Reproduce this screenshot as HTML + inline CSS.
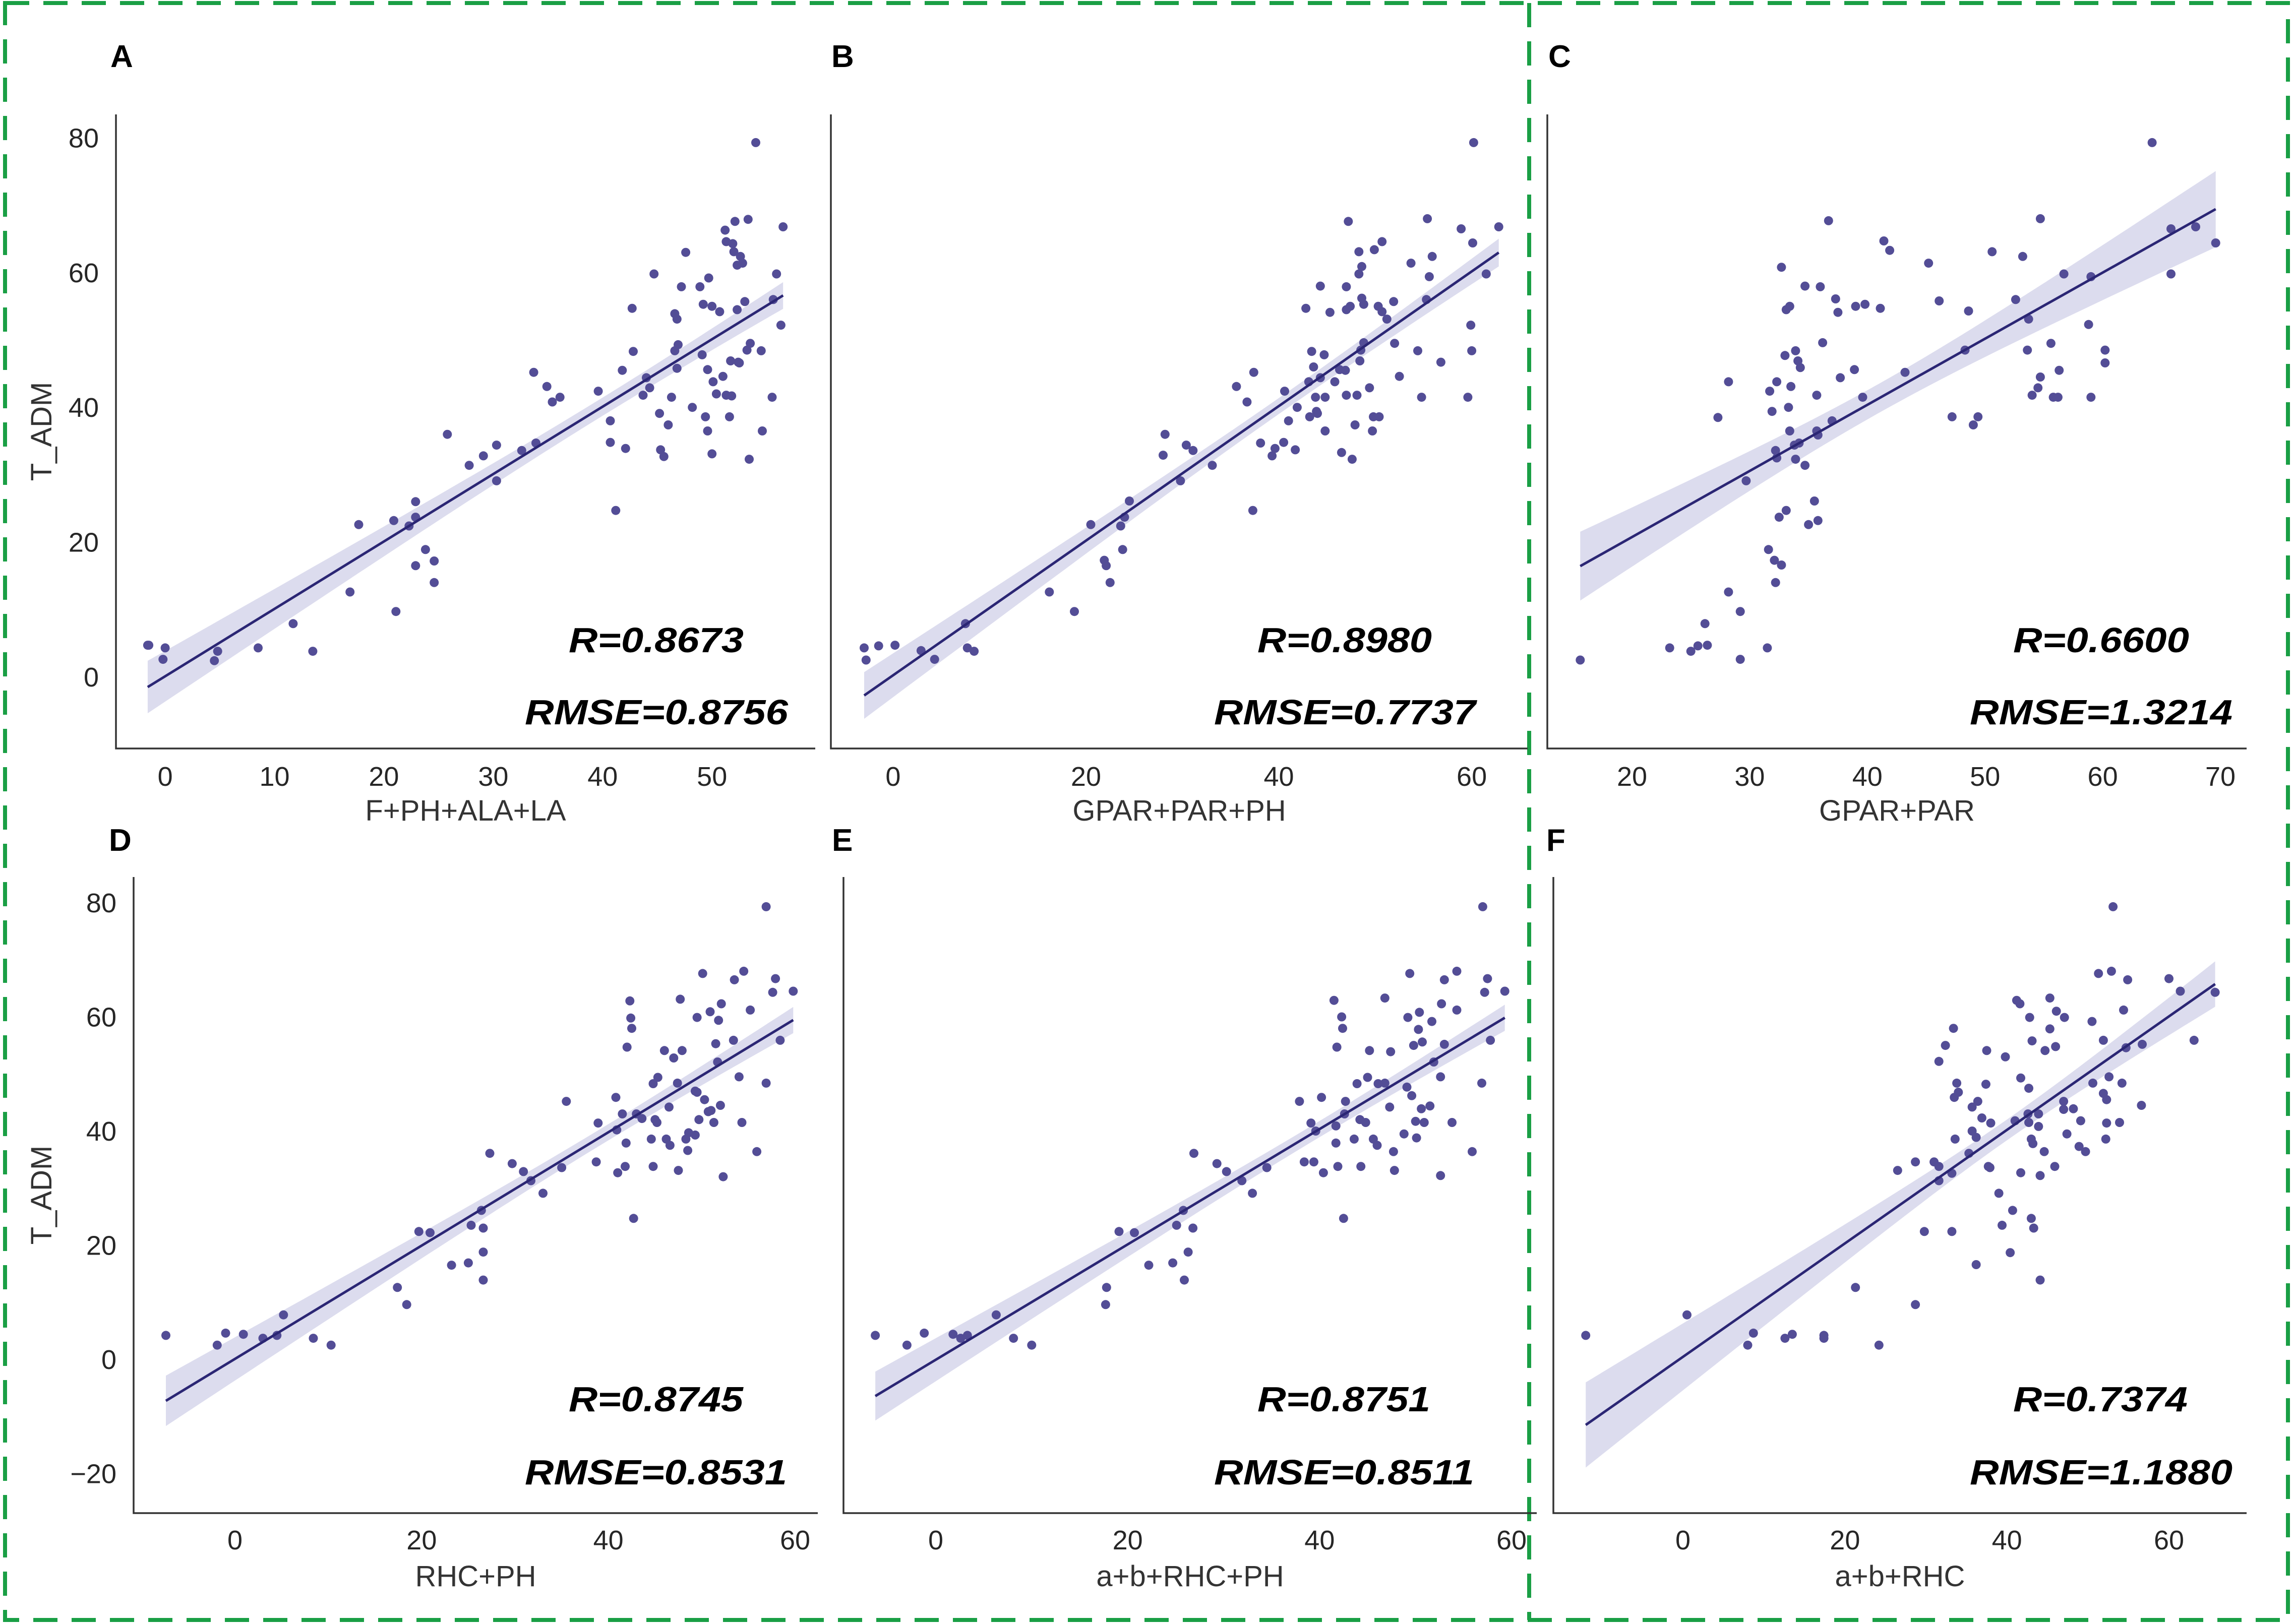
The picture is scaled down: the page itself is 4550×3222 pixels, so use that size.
<!DOCTYPE html>
<html><head><meta charset="utf-8"><title>Regression scatter panels</title>
<style>
html,body{margin:0;padding:0;background:#fff;}
svg{display:block;font-family:"Liberation Sans",Arial,sans-serif;}
</style></head>
<body>
<svg id="fig" width="4550" height="3222" viewBox="0 0 4550 3222" xmlns="http://www.w3.org/2000/svg">
<rect x="0" y="0" width="4550" height="3222" fill="#fff"/>
<g fill="none" stroke="#1a9f45" stroke-width="8" stroke-dasharray="48 28">
<rect x="10" y="6" width="4528" height="3208"/>
<line x1="3033" y1="6" x2="3033" y2="3214"/>
</g>
</svg>
<script>
const panelAPoints=[[-1.6,4.7],[-1.5,4.7],[0,4.3],[-0.2,2.6],[4.8,3.8],[4.5,2.4],[8.5,4.3],[11.7,7.9],[13.5,3.8],[16.9,12.6],[17.7,22.6],[21.1,9.7],[20.9,23.2],[22.3,22.4],[22.9,26],[22.9,23.7],[22.9,16.5],[23.8,18.9],[24.6,14],[24.6,17.2],[25.8,36],[27.8,31.4],[29.1,32.8],[30.3,34.4],[30.3,29.1],[32.6,33.6],[33.9,34.7],[33.7,45.2],[34.9,43.1],[35.4,40.8],[36.1,41.5],[39.6,42.4],[40.7,38],[40.7,34.8],[42.1,33.9],[41.2,24.7],[41.8,45.5],[42.7,54.7],[42.8,48.3],[43.7,41.8],[44,44.4],[44.3,42.9],[44.7,59.8],[45.2,39.1],[45.3,33.7],[45.6,32.7],[46,37.4],[46.3,41.5],[46.6,53.9],[46.8,53.1],[46.6,48.4],[46.8,45.8],[46.9,49.3],[47.2,57.9],[47.6,63],[48.2,40],[48.9,57.9],[49.1,47.8],[49.2,55.3],[49.4,38.6],[49.6,36.5],[49.6,45.6],[49.7,59.2],[50,55],[50,33.1],[50.1,43.8],[50.4,42],[50.7,54.2],[51,44.6],[51.2,66.3],[51.3,64.6],[51.3,41.8],[51.6,38.6],[51.7,46.9],[51.8,41.7],[51.9,64.3],[52,63.1],[52.1,67.6],[52.3,54.5],[52.3,61.1],[52.4,46.7],[52.5,46.6],[52.6,62.4],[52.8,61.4],[53,55.7],[53.2,48.5],[53.3,67.9],[53.4,32.3],[53.5,49.5],[54,79.3],[54.5,48.4],[54.6,36.5],[55.5,41.5],[55.6,56],[55.9,59.8],[56.3,52.2],[56.5,66.8]];
const panelBPoints=[[-3.0,4.3],[-2.8,2.5],[-1.5,4.6],[0.2,4.7],[2.9,3.9],[4.3,2.6],[7.5,7.9],[7.7,4.3],[8.4,3.8],[16.2,12.6],[18.8,9.7],[20.5,22.6],[21.9,17.3],[22.1,16.5],[22.5,14],[23.6,22.4],[23.8,18.9],[24,23.7],[24.5,26.1],[28,32.9],[28.2,36],[29.8,29.1],[30.4,34.4],[31.1,33.6],[33.1,31.4],[35.6,43.1],[36.7,40.8],[37.3,24.7],[37.4,45.2],[38.1,34.7],[39.3,32.8],[39.6,33.9],[40.5,34.8],[40.6,42.4],[41,38],[41.7,33.7],[41.9,40],[42.8,54.7],[43.1,43.8],[43.2,38.6],[43.4,48.3],[43.6,46],[43.8,41.5],[43.9,39.4],[44,39.1],[44.3,58],[44.3,44.4],[44.7,47.8],[44.8,36.5],[44.8,41.5],[45.3,54.1],[45.8,43.8],[46.3,45.6],[46.5,33.3],[46.9,45.5],[47,57.9],[47,54.5],[47,41.8],[47.2,67.6],[47.4,55],[47.6,32.3],[47.9,37.4],[48.1,41.8],[48.3,59.8],[48.3,63.1],[48.4,46.9],[48.5,48.5],[48.6,60.9],[48.6,56.2],[48.8,55.3],[48.8,49.6],[49.4,42.9],[49.7,36.5],[49.8,38.6],[49.9,63.4],[50.3,55],[50.4,38.6],[50.7,64.6],[50.7,54.2],[51.2,53.1],[51.9,55.7],[52,49.5],[52.5,44.6],[53.7,61.4],[54.4,48.4],[54.8,41.5],[55.3,56],[55.4,68],[55.6,59.4],[55.9,62.4],[56.8,46.7],[58.9,66.5],[59.6,41.5],[59.9,52.2],[60,48.4],[60.1,64.4],[60.2,79.3],[61.5,59.8],[62.8,66.8]];
const panelCPoints=[[15.6,2.5],[23.2,4.3],[25,3.8],[25.6,4.6],[26.4,4.7],[26.2,7.9],[28.2,12.6],[29.2,9.7],[29.2,2.6],[31.5,4.3],[29.7,29.1],[27.3,38.5],[28.2,43.8],[31.6,18.9],[32.1,17.3],[32.2,14],[32.7,16.6],[32.5,23.7],[33.1,24.7],[35,22.6],[35.5,26.1],[35.8,23.2],[31.7,42.4],[32.3,43.8],[31.9,39.4],[32.2,33.6],[32.3,32.5],[32.7,60.8],[33,47.7],[33.1,54.5],[33.4,55],[33.3,40],[33.4,36.5],[33.5,43.1],[33.8,34.4],[33.9,32.3],[33.9,48.4],[34.1,46.9],[34.3,45.9],[34.2,34.7],[34.7,31.4],[34.7,58],[35.7,41.8],[35.7,36.5],[35.8,35.9],[36,57.9],[36.2,49.6],[36.7,67.7],[37,38],[37.3,56.1],[37.5,54.1],[37.7,44.4],[38.9,45.6],[39,55],[39.6,41.5],[39.8,55.3],[41.1,54.7],[41.4,64.7],[41.9,63.3],[43.2,45.2],[45.2,61.4],[46.1,55.8],[47.2,38.6],[48.3,48.5],[48.6,54.3],[49,37.4],[49.4,38.6],[50.6,63.1],[52.6,56],[53.2,62.4],[53.7,53.1],[53.6,48.5],[54,41.8],[54.5,42.9],[54.7,68],[54.7,44.5],[55.6,49.5],[55.8,41.5],[56.2,41.5],[56.3,45.5],[56.7,59.8],[58.8,52.3],[59,41.5],[59,59.4],[60.2,48.5],[60.2,46.6],[64.2,79.3],[65.8,66.5],[65.8,59.8],[67.9,66.8],[69.6,64.4]];
const panelDPoints=[[-7.4,4.2],[-1.9,2.5],[-1,4.6],[0.9,4.4],[3,3.7],[4.5,4.2],[5.2,7.8],[8.4,3.7],[10.3,2.5],[17.4,12.6],[18.4,9.6],[19.7,22.4],[20.9,22.2],[23.2,16.5],[25,16.9],[25.3,23.5],[26.6,23],[26.4,26.1],[26.6,18.8],[26.6,13.9],[27.3,36.1],[29.7,34.3],[30.9,32.9],[31.7,31.3],[33,29.1],[35,33.6],[35.5,45.2],[38.7,34.6],[38.9,41.4],[40.8,45.9],[40.9,40.2],[41,32.7],[41.5,43],[41.8,33.8],[41.9,37.9],[42,54.7],[42.3,62.8],[42.4,59.8],[42.5,58],[42.7,24.7],[43,43],[43.6,42.2],[44.6,38.6],[44.8,48.3],[44.8,33.8],[45,42],[45.2,41.5],[45.3,49.4],[46,54.1],[46.2,38.6],[46.5,44.2],[46.6,37.5],[47,52.8],[47.4,48.4],[47.5,33.1],[47.7,63.1],[47.9,54.1],[48.3,38.6],[48.5,36.6],[48.6,39.7],[49.3,39.3],[49.3,47],[49.5,59.9],[49.5,46.8],[49.7,42],[50.1,67.6],[50.3,45.5],[50.7,43.4],[50.9,60.9],[51,43.6],[51.3,41.5],[51.5,55.3],[51.7,52.1],[51.8,59.4],[52,44.5],[52.1,62.3],[52.3,32],[53.4,55.9],[53.5,66.5],[54,49.5],[54.3,41.5],[54.5,68],[55.2,61.2],[55.9,36.4],[56.9,79.3],[56.9,48.4],[57.6,64.3],[57.9,66.7],[58.4,55.9],[59.8,64.5]];
const panelEPoints=[[-6.3,4.2],[-3,2.5],[-1.2,4.6],[1.8,4.4],[2.6,3.7],[3.3,4.2],[6.3,7.8],[8.1,3.7],[10,2.5],[17.8,12.6],[17.7,9.6],[19.1,22.4],[20.7,22.2],[22.2,16.5],[24.7,16.9],[25.1,23.5],[26.8,23],[25.8,26.1],[26.3,18.8],[25.9,13.9],[26.9,36.1],[29.3,34.3],[30.3,32.9],[31.9,31.3],[33,29.1],[34.5,33.6],[37.9,45.2],[38.4,34.6],[39.4,34.6],[39.1,41.4],[39.6,40],[40.2,45.9],[40.4,32.7],[41.5,62.9],[41.7,37.9],[41.7,40.9],[41.8,54.7],[41.9,33.8],[42.3,60],[42.4,58],[42.5,24.7],[42.6,43],[42.7,45.2],[43.6,38.6],[43.9,48.3],[44.3,33.8],[44.2,42],[44.8,41.5],[45,49.4],[45.2,54.1],[45.6,38.6],[46,37.5],[46.1,48.3],[46.8,48.4],[46.8,63.3],[47.3,44.2],[47.4,53.9],[47.7,36.4],[47.8,33.1],[48.8,39.5],[49.1,47.7],[49.2,59.9],[49.4,67.6],[49.6,46.2],[49.8,55],[50,41.7],[50.1,38.8],[50.4,60.8],[50.3,57.8],[50.6,43.9],[50.7,55.6],[50.9,41.5],[51.5,44.4],[51.7,59.2],[51.9,52.1],[52.6,49.5],[52.6,32.2],[52.7,62.3],[53,66.5],[53,55.2],[53.8,41.5],[54.3,68],[54.3,61.2],[55.9,36.4],[56.9,48.4],[57,79.3],[57.2,64.3],[57.5,66.7],[57.8,55.9],[59.3,64.5]];
const panelFPoints=[[-12,4.2],[0.5,7.8],[8,2.5],[8.7,4.6],[12.6,3.7],[13.5,4.4],[17.4,4.2],[17.4,3.7],[21.3,12.6],[24.2,2.5],[26.5,33.1],[28.7,34.6],[28.7,9.6],[29.8,22.4],[31,34.6],[31.6,33.8],[31.6,52.2],[31.6,31.3],[32.4,55],[33.2,32.6],[33.2,22.4],[33.4,58],[33.6,38.6],[33.5,45.9],[33.8,48.4],[34,46.8],[35.3,36.1],[35.7,44.2],[35.7,40],[36.2,38.9],[36.2,16.6],[36.4,45.2],[36.9,42.3],[37.4,48.2],[37.5,54.1],[37.7,33.8],[37.9,33.6],[38,41.4],[39,29.1],[39.4,23.5],[39.8,53],[40.4,18.7],[40.7,26.1],[41,41.8],[41.2,62.9],[41.6,62.3],[41.7,49.3],[41.7,32.7],[42.6,43],[42.7,47.5],[42.7,41.5],[42.8,59.9],[43,24.7],[43,38.6],[43.1,55.8],[43.3,23],[43.2,37.8],[43.9,43],[44.1,32.2],[44.1,13.9],[43.9,40.8],[44.6,36.4],[44.7,54.1],[45.3,63.3],[45.3,57.9],[45.9,33.8],[46,54.8],[46.1,61],[47,45.2],[47.1,59.9],[47,43.8],[47.4,39.5],[48.2,43.9],[48.9,37.3],[49.1,41.8],[49.7,36.4],[50.5,59.2],[50.6,48.4],[51.3,67.6],[51.9,46.6],[51.9,55.9],[52.2,38.6],[52.3,45.5],[52.3,41.4],[52.6,49.5],[52.9,68],[53.9,41.5],[54.2,48.4],[54.4,61.2],[54.7,54.6],[54.9,66.5],[56.6,44.5],[56.7,55.2],[60,66.7],[61.4,64.5],[63.1,55.9],[53.1,79.3],[65.7,64.3]];
const xTicksA=[0,10,20,30,40,50];
const xTicksB=[0,20,40,60];
const xTicksC=[20,30,40,50,60,70];
const xTicksBottom=[0,20,40,60];
const yTicksTop=[0,20,40,60,80];
const yTicksBottom=[-20,0,20,40,60,80];
const xTitles=["F+PH+ALA+LA","GPAR+PAR+PH","GPAR+PAR","RHC+PH","a+b+RHC+PH","a+b+RHC"];
const rLabels=["R=0.8673","R=0.8980","R=0.6600","R=0.8745","R=0.8751","R=0.7374"];
const rmseLabels=["RMSE=0.8756","RMSE=0.7737","RMSE=1.3214","RMSE=0.8531","RMSE=0.8511","RMSE=1.1880"];

const NS="http://www.w3.org/2000/svg";
const svg=document.getElementById('fig');
function mk(tag,attrs,parent){const e=document.createElementNS(NS,tag);for(const k in attrs)e.setAttribute(k,attrs[k]);(parent||svg).appendChild(e);return e;}
function lin(d0,d1,p0,p1){return v=>p0+(v-d0)*(p1-p0)/(d1-d0);}

const panels=[
 {id:'a',letter:'A',pts:panelAPoints,xs:lin(0,50,327.6,1412.2),ys:lin(0,80,1342.9,273.5),box:[230,1617,227,1485],xt:xTicksA,yt:yTicksTop,showY:true,lx:219,ly:133,tickB:1559,titleB:1628,r:[1128,347,1041,522,1294,1437]},
 {id:'b',letter:'B',pts:panelBPoints,xs:lin(0,60,1771.4,2919.1),ys:lin(0,80,1342.9,273.5),box:[1648,3030,227,1485],xt:xTicksB,yt:yTicksTop,showY:false,lx:1649,ly:133,tickB:1559,titleB:1628,r:[2494,346,2408,519,1294,1437]},
 {id:'c',letter:'C',pts:panelCPoints,xs:lin(20,70,3237,4404),ys:lin(0,80,1342.9,273.5),box:[3069,4456,227,1485],xt:xTicksC,yt:yTicksTop,showY:false,lx:3071,ly:133,tickB:1559,titleB:1628,r:[3993,349,3907,521,1294,1437]},
 {id:'d',letter:'D',pts:panelDPoints,xs:lin(0,60,466,1577),ys:lin(0,80,2697,1791),box:[265,1622,1740,3002],xt:xTicksBottom,yt:yTicksBottom,showY:true,lx:216,ly:1688,tickB:3074,titleB:3147,r:[1128,346,1041,520,2800,2945]},
 {id:'e',letter:'E',pts:panelEPoints,xs:lin(0,60,1856,2998),ys:lin(0,80,2697,1791),box:[1673,3048,1740,3002],xt:xTicksBottom,yt:yTicksBottom,showY:false,lx:1650,ly:1688,tickB:3074,titleB:3147,r:[2494,343,2408,516,2800,2945]},
 {id:'f',letter:'F',pts:panelFPoints,xs:lin(0,60,3338,4302),ys:lin(0,80,2697,1791),box:[3081,4456,1740,3002],xt:xTicksBottom,yt:yTicksBottom,showY:false,lx:3067,ly:1688,tickB:3074,titleB:3147,r:[3993,346,3907,521,2800,2945]}
];

panels.forEach((p,i)=>{
 const g=mk('g',{});
 
 
 const [L,R,T,B]=p.box;
 const n=p.pts.length;let mx=0,my=0;p.pts.forEach(q=>{mx+=q[0];my+=q[1];});mx/=n;my/=n;
 let sxx=0,sxy=0;p.pts.forEach(q=>{sxx+=(q[0]-mx)**2;sxy+=(q[0]-mx)*(q[1]-my);});
 const b=sxy/sxx,a=my-b*mx;let sse=0;p.pts.forEach(q=>{sse+=(q[1]-a-b*q[0])**2;});
 const s=Math.sqrt(sse/(n-2));
 const xmin=Math.min(...p.pts.map(q=>q[0])),xmax=Math.max(...p.pts.map(q=>q[0]));
 const up=[],lo=[];
 for(let k=0;k<=60;k++){const x=xmin+(xmax-xmin)*k/60;const h=1.5*s*Math.sqrt(1/n+(x-mx)**2/sxx);const yh=a+b*x;
  up.push(p.xs(x).toFixed(1)+','+p.ys(yh+h).toFixed(1));lo.unshift(p.xs(x).toFixed(1)+','+p.ys(yh-h).toFixed(1));}
 const band=mk('polygon',{points:up.concat(lo).join(' '),fill:'#dcdcee'},g);
 
 
 p.pts.forEach(q=>{
  const c=mk('circle',{cx:p.xs(q[0]).toFixed(1),cy:p.ys(q[1]).toFixed(1),r:9,fill:'#534d96'},g);
  
  
 });
 const ln=mk('line',{x1:p.xs(xmin),y1:p.ys(a+b*xmin),x2:p.xs(xmax),y2:p.ys(a+b*xmax),stroke:'#2b2674','stroke-width':5},g);
 
 
 const ax=mk('path',{d:`M${L},${T} L${L},${B} L${R},${B}`,fill:'none',stroke:'#333','stroke-width':3.5},g);
 
 
 p.xt.forEach(v=>{
  const t=mk('text',{x:p.xs(v),y:p.tickB,'font-size':54,fill:'#262626','text-anchor':'middle'},g);t.textContent=String(v);
  
  
 });
 if(p.showY){p.yt.forEach(v=>{
  const t=mk('text',{x:L-34,y:p.ys(v)+19,'font-size':54,fill:'#262626','text-anchor':'end'},g);t.textContent=v<0?'\u2212'+(-v):String(v);
  
  
 });
  const cy=(T+B)/2;
  const yt=mk('text',{x:82,y:cy,'font-size':58,fill:'#333','text-anchor':'middle',transform:`rotate(-90 82 ${cy}) translate(0 20)`},g);yt.textContent='T_ADM';
  
  
 }
 const xt=mk('text',{x:(L+R)/2,y:p.titleB,'font-size':58,fill:'#333','text-anchor':'middle'},g);xt.textContent=xTitles[i];
 
 
 const lt=mk('text',{x:p.lx,y:p.ly,'font-size':62,'font-weight':'bold',fill:'#000'},g);lt.textContent=p.letter;
 
 
 const r1=mk('text',{x:p.r[0],y:p.r[4],'font-size':70,'font-weight':'bold','font-style':'italic',fill:'#000',textLength:p.r[1],lengthAdjust:'spacingAndGlyphs'},g);r1.textContent=rLabels[i];
 
 
 const r2=mk('text',{x:p.r[2],y:p.r[5],'font-size':70,'font-weight':'bold','font-style':'italic',fill:'#000',textLength:p.r[3],lengthAdjust:'spacingAndGlyphs'},g);r2.textContent=rmseLabels[i];
 
 
});
</script>
</body></html>
